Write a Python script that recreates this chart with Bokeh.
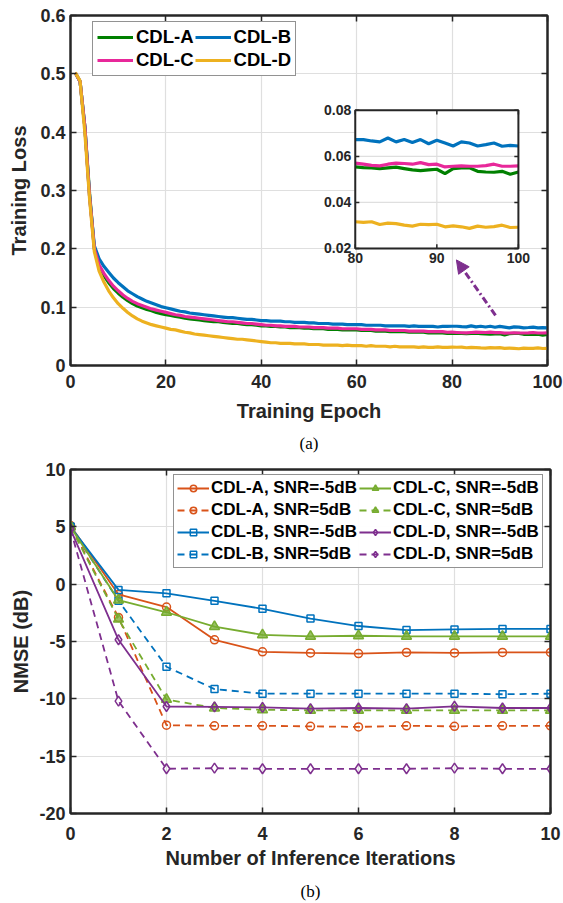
from bokeh.plotting import figure
from bokeh.models import (Legend, LegendItem, LinearAxis, Range1d, Arrow, NormalHead, Title)
from bokeh.layouts import column
from bokeh.embed import file_html
from bokeh.resources import INLINE

# ---------------- data: (a) training loss ----------------
epochs = list(range(1, 101))

loss_a = [0.502, 0.487, 0.410, 0.295, 0.200, 0.170, 0.154, 0.142, 0.132, 0.124,
          0.117, 0.111, 0.106, 0.102, 0.099, 0.096, 0.094, 0.091, 0.089, 0.087,
          0.086, 0.084, 0.083, 0.081, 0.080, 0.079, 0.078, 0.077, 0.076, 0.075,
          0.075, 0.074, 0.073, 0.072, 0.072, 0.071, 0.070, 0.070, 0.069, 0.068,
          0.068, 0.067, 0.067, 0.066, 0.066, 0.065, 0.065, 0.065, 0.064, 0.064,
          0.063, 0.063, 0.063, 0.062, 0.062, 0.062, 0.061, 0.061, 0.061, 0.061,
          0.060, 0.060, 0.060, 0.059, 0.059, 0.059, 0.058, 0.058, 0.058, 0.058,
          0.057, 0.057, 0.057, 0.057, 0.056, 0.056, 0.056, 0.056, 0.055,
          0.0554, 0.0551, 0.0550, 0.0547, 0.0550, 0.0553, 0.0547, 0.0541, 0.0538, 0.0541,
          0.0544, 0.0525, 0.0547, 0.0550, 0.0550, 0.0535, 0.0532, 0.0531, 0.0535, 0.0522,
          0.0532]

loss_b = [0.502, 0.487, 0.410, 0.290, 0.205, 0.183, 0.170, 0.160, 0.150, 0.142,
          0.135, 0.128, 0.123, 0.118, 0.114, 0.110, 0.107, 0.104, 0.101, 0.099,
          0.097, 0.095, 0.093, 0.092, 0.090, 0.089, 0.088, 0.087, 0.086, 0.085,
          0.084, 0.083, 0.082, 0.082, 0.081, 0.080, 0.079, 0.079, 0.078, 0.077,
          0.077, 0.076, 0.076, 0.076, 0.075, 0.075, 0.074, 0.074, 0.074, 0.073,
          0.073, 0.072, 0.072, 0.072, 0.071, 0.071, 0.071, 0.070, 0.070, 0.070,
          0.070, 0.069, 0.069, 0.069, 0.069, 0.068, 0.068, 0.068, 0.068, 0.068,
          0.067, 0.068, 0.067, 0.067, 0.067, 0.067, 0.066, 0.067, 0.067,
          0.0673, 0.0673, 0.0667, 0.0663, 0.0680, 0.0663, 0.0673, 0.0660, 0.0673, 0.0655,
          0.0670, 0.0658, 0.0645, 0.0663, 0.0658, 0.0645, 0.0651, 0.0658, 0.0644, 0.0648,
          0.0645]

loss_c = [0.502, 0.487, 0.410, 0.290, 0.200, 0.172, 0.158, 0.146, 0.136, 0.128,
          0.121, 0.115, 0.110, 0.106, 0.103, 0.100, 0.097, 0.095, 0.093, 0.091,
          0.089, 0.087, 0.086, 0.084, 0.083, 0.082, 0.081, 0.080, 0.079, 0.078,
          0.077, 0.076, 0.075, 0.075, 0.074, 0.073, 0.072, 0.072, 0.071, 0.070,
          0.069, 0.069, 0.068, 0.068, 0.067, 0.067, 0.067, 0.066, 0.066, 0.066,
          0.065, 0.065, 0.065, 0.064, 0.064, 0.064, 0.063, 0.063, 0.063, 0.063,
          0.062, 0.062, 0.062, 0.061, 0.061, 0.061, 0.060, 0.060, 0.060, 0.060,
          0.059, 0.059, 0.059, 0.059, 0.058, 0.058, 0.058, 0.058, 0.057,
          0.0571, 0.0566, 0.0561, 0.0559, 0.0566, 0.0571, 0.0569, 0.0566, 0.0573, 0.0564,
          0.0566, 0.0554, 0.0557, 0.0559, 0.0557, 0.0557, 0.0560, 0.0566, 0.0557, 0.0557,
          0.0559]

loss_d = [0.502, 0.488, 0.400, 0.285, 0.195, 0.162, 0.143, 0.128, 0.116, 0.106,
          0.098, 0.091, 0.085, 0.080, 0.076, 0.073, 0.070, 0.068, 0.066, 0.064,
          0.062, 0.061, 0.059, 0.057, 0.056, 0.054, 0.053, 0.052, 0.051, 0.050,
          0.049, 0.048, 0.047, 0.046, 0.045, 0.045, 0.044, 0.043, 0.042, 0.041,
          0.040, 0.039, 0.039, 0.038, 0.038, 0.038, 0.037, 0.037, 0.037, 0.036,
          0.036, 0.036, 0.035, 0.035, 0.035, 0.035, 0.034, 0.035, 0.034, 0.034,
          0.034, 0.033, 0.034, 0.033, 0.033, 0.033, 0.032, 0.033, 0.032, 0.032,
          0.032, 0.032, 0.031, 0.032, 0.031, 0.031, 0.032, 0.031, 0.031,
          0.0316, 0.0313, 0.0316, 0.0304, 0.0310, 0.0308, 0.0301, 0.0297, 0.0305, 0.0303,
          0.0305, 0.0294, 0.0298, 0.0294, 0.0287, 0.0297, 0.0292, 0.0295, 0.0301, 0.0291,
          0.0292]

loss_names = ["CDL-A", "CDL-B", "CDL-C", "CDL-D"]
top_xticks = [0, 20, 40, 60, 80, 100]
top_yticks = [0, 0.1, 0.2, 0.3, 0.4, 0.5, 0.6]
top_ylabels = ["0", "0.1", "0.2", "0.3", "0.4", "0.5", "0.6"]

inset_first_epoch = 80
inset_xticks = [80, 90, 100]
inset_xlabels = ["80", "90", "100"]
inset_yticks = [0.02, 0.04, 0.06, 0.08]
inset_ylabels = ["0.02", "0.04", "0.06", "0.08"]

# ---------------- data: (b) NMSE ----------------
iters = [0, 1, 2, 3, 4, 5, 6, 7, 8, 9, 10]
a_m5 = [5.1, -0.9, -2.0, -4.85, -5.9, -6.0, -6.05, -5.95, -6.0, -5.95, -5.95]
a_p5 = [5.1, -2.9, -12.3, -12.35, -12.35, -12.4, -12.45, -12.35, -12.4, -12.35, -12.35]
b_m5 = [5.0, -0.5, -0.8, -1.45, -2.15, -3.0, -3.65, -4.0, -3.95, -3.9, -3.9]
b_p5 = [5.0, -1.45, -7.2, -9.15, -9.55, -9.55, -9.55, -9.55, -9.55, -9.6, -9.55]
c_m5 = [5.0, -1.4, -2.45, -3.7, -4.42, -4.55, -4.5, -4.55, -4.55, -4.55, -4.55]
c_p5 = [5.0, -3.05, -10.05, -10.8, -10.96, -11.0, -11.0, -11.0, -11.0, -11.0, -11.0]
d_m5 = [4.8, -4.85, -10.67, -10.7, -10.75, -10.85, -10.8, -10.85, -10.65, -10.8, -10.8]
d_p5 = [4.8, -10.2, -16.1, -16.05, -16.1, -16.1, -16.1, -16.1, -16.05, -16.1, -16.1]

bot_xticks = [0, 2, 4, 6, 8, 10]
bot_yticks = [-20, -15, -10, -5, 0, 5, 10]
bot_ylabels = ["-20", "-15", "-10", "-5", "0", "5", "10"]

# ---------------- styles ----------------
FONT = "Liberation Sans"
INK = "#262626"
GRID = "#DFDFDF"
top_colors = ["#008000", "#0072BD", "#E8289A", "#EDB120"]
ORANGE, BLUE, GREEN, PURPLE = "#D95319", "#0072BD", "#77AC30", "#7E2F8E"


def style_axes(p, xticks, yticks, ylabels, xlab, ylab, tick_standoff_x, xlab_standoff, ylab_standoff):
    p.xaxis.ticker = xticks
    p.yaxis.ticker = yticks
    p.xgrid.ticker = xticks
    p.ygrid.ticker = yticks
    p.yaxis.major_label_overrides = {t: l for t, l in zip(yticks, ylabels)}
    p.xaxis.major_label_overrides = {t: str(t) for t in xticks}
    for ax in (p.xaxis[0], p.yaxis[0]):
        ax.major_label_text_font = FONT
        ax.major_label_text_font_style = "bold"
        ax.major_label_text_font_size = "18px"
        ax.major_label_text_color = INK
        ax.axis_label_text_font = FONT
        ax.axis_label_text_font_style = "bold"
        ax.axis_label_text_font_size = "20px"
        ax.axis_label_text_color = INK
        ax.major_tick_in = 6
        ax.major_tick_out = 0
        ax.major_tick_line_color = INK
        ax.major_tick_line_width = 1.5
        ax.minor_tick_line_color = None
        ax.axis_line_color = INK
        ax.axis_line_width = 2
    p.xaxis[0].axis_label = xlab
    p.yaxis[0].axis_label = ylab
    p.xaxis[0].major_label_standoff = tick_standoff_x
    p.xaxis[0].axis_label_standoff = xlab_standoff
    p.yaxis[0].major_label_standoff = 5
    p.yaxis[0].axis_label_standoff = ylab_standoff
    # mirrored inward ticks on the top and right edges (no labels)
    for loc, tk in (("right", yticks), ("above", xticks)):
        ax = LinearAxis(ticker=tk, major_label_text_font_size="1px", major_label_text_color=None,
                        major_label_standoff=0,
                        major_tick_in=6, major_tick_out=0, major_tick_line_color=INK,
                        major_tick_line_width=1.5, minor_tick_line_color=None,
                        axis_line_color=INK, axis_line_width=2)
        p.add_layout(ax, loc)
    p.grid.grid_line_color = GRID
    p.grid.grid_line_width = 1.2
    p.outline_line_color = INK
    p.outline_line_width = 2
    p.background_fill_color = "white"
    p.border_fill_color = "white"


# ================= (a) =================
p1 = figure(frame_width=477, frame_height=350, output_backend="svg", toolbar_location=None,
            x_range=Range1d(0, 100), y_range=Range1d(0, 0.6),
            min_border_left=68, min_border_right=18, min_border_top=15, min_border_bottom=93)
style_axes(p1, top_xticks, top_yticks, top_ylabels, "Training Epoch", "Training Loss", 9, 9, 7)

series_top = [loss_a, loss_b, loss_c, loss_d]
top_r = []
for vals, col in zip(series_top, top_colors):
    top_r.append(p1.line(epochs, vals, line_color=col, line_width=3.2))

# inset (zoom of the last epochs), drawn through a sub-coordinate mapping
k = epochs.index(inset_first_epoch)
ins = p1.subplot(x_source=Range1d(inset_xticks[0], inset_xticks[-1]),
                 y_source=Range1d(inset_yticks[0], inset_yticks[-1]),
                 x_target=Range1d(59.7, 93.9), y_target=Range1d(0.2007, 0.4374))
x0, x1 = inset_xticks[0], inset_xticks[-1]
y0, y1 = inset_yticks[0], inset_yticks[-1]
ins.quad(left=[x0], right=[x1], bottom=[y0], top=[y1], fill_color="white", line_color=None)
ins.segment(x0=inset_xticks, x1=inset_xticks, y0=[y0] * 3, y1=[y1] * 3, line_color=GRID, line_width=1.2)
ins.segment(x0=[x0] * 4, x1=[x1] * 4, y0=inset_yticks, y1=inset_yticks, line_color=GRID, line_width=1.2)
for vals, col in zip(series_top, top_colors):
    ins.line(epochs[k:], vals[k:], line_color=col, line_width=3.2)
tx = 0.0018
ty = 0.5
ins.segment(x0=inset_xticks, x1=inset_xticks, y0=[y0] * 3, y1=[y0 + tx] * 3, line_color=INK, line_width=1.5)
ins.segment(x0=inset_xticks, x1=inset_xticks, y0=[y1] * 3, y1=[y1 - tx] * 3, line_color=INK, line_width=1.5)
ins.segment(x0=[x0] * 4, x1=[x0 + ty] * 4, y0=inset_yticks, y1=inset_yticks, line_color=INK, line_width=1.5)
ins.segment(x0=[x1] * 4, x1=[x1 - ty] * 4, y0=inset_yticks, y1=inset_yticks, line_color=INK, line_width=1.5)
ins.quad(left=[x0], right=[x1], bottom=[y0], top=[y1], fill_color=None, line_color=INK, line_width=2)
ins.text(x=inset_xticks, y=[y0] * 3, text=inset_xlabels, text_align="center", text_baseline="top",
         y_offset=5, text_font={"value": FONT}, text_font_style="bold", text_font_size="14px", text_color=INK)
ins.text(x=[x0] * 4, y=inset_yticks, text=inset_ylabels, text_align="right", text_baseline="middle",
         x_offset=-4, text_font={"value": FONT}, text_font_style="bold", text_font_size="14px", text_color=INK)

p1.add_layout(Arrow(end=NormalHead(size=13, fill_color=PURPLE, line_color=PURPLE),
                    x_start=89.1, y_start=0.086, x_end=80.9, y_end=0.181,
                    line_color=PURPLE, line_width=3, line_dash="7 3 2 3"))

leg1 = Legend(items=[LegendItem(label=n, renderers=[r]) for n, r in
                     zip([loss_names[0], loss_names[2], loss_names[1], loss_names[3]],
                         [top_r[0], top_r[2], top_r[1], top_r[3]])],
              ncols=2, location=(22, 289))
leg1.label_text_font = FONT
leg1.label_text_font_style = "bold"
leg1.label_text_font_size = "18.5px"
leg1.label_text_color = "black"
leg1.glyph_width = 36
leg1.glyph_height = 18
leg1.label_standoff = 3
leg1.spacing = 1
leg1.padding = 4
leg1.margin = 0
leg1.border_line_color = INK
leg1.border_line_width = 1.5
leg1.background_fill_alpha = 1
p1.add_layout(leg1, "center")

p1.add_layout(Title(text="(a)", align="center", offset=-21, standoff=14, text_font="Liberation Serif",
                    text_font_style="normal", text_font_size="17px", text_color="black"), "below")

# ================= (b) =================
p2 = figure(frame_width=480, frame_height=344, output_backend="svg", toolbar_location=None,
            x_range=Range1d(0, 10), y_range=Range1d(-20, 10),
            min_border_left=70, min_border_right=13, min_border_top=10, min_border_bottom=80)
style_axes(p2, bot_xticks, bot_yticks, bot_ylabels, "Number of Inference Iterations", "NMSE (dB)", 13, 4, 4)

specs = [
    ("CDL-A, SNR=-5dB", a_m5, ORANGE, "solid", "circle", None, 8),
    ("CDL-A, SNR=5dB", a_p5, ORANGE, "7 5", "circle", None, 8),
    ("CDL-B, SNR=-5dB", b_m5, BLUE, "solid", "square", None, 7),
    ("CDL-B, SNR=5dB", b_p5, BLUE, "7 5", "square", None, 7),
    ("CDL-C, SNR=-5dB", c_m5, GREEN, "solid", "triangle", GREEN, 10),
    ("CDL-C, SNR=5dB", c_p5, GREEN, "7 5", "triangle", GREEN, 10),
    ("CDL-D, SNR=-5dB", d_m5, PURPLE, "solid", "diamond", None, 10),
    ("CDL-D, SNR=5dB", d_p5, PURPLE, "7 5", "diamond", None, 10),
]
items2 = []
for label, vals, col, dash, marker, fill, size in specs:
    lr = p2.line(iters, vals, line_color=col, line_width=1.8, line_dash=dash)
    sr = p2.scatter(iters, vals, marker=marker, size=size, line_color=col, line_width=1.5,
                    fill_color=fill, fill_alpha=0.75)
    items2.append(LegendItem(label=label, renderers=[lr, sr]))

leg2 = Legend(items=items2, ncols=2, location=(103, 245))
leg2.label_text_font = FONT
leg2.label_text_font_style = "bold"
leg2.label_text_font_size = "17px"
leg2.label_text_color = "black"
leg2.glyph_width = 32
leg2.glyph_height = 16
leg2.label_standoff = 2
leg2.spacing = 2
leg2.padding = 3
leg2.margin = 0
leg2.border_line_color = INK
leg2.border_line_width = 1.5
p2.add_layout(leg2, "center")

p2.add_layout(Title(text="(b)", align="center", offset=-22, standoff=16, text_font="Liberation Serif",
                    text_font_style="normal", text_font_size="17px", text_color="black"), "below")

page = column(p1, p2, spacing=0)
open("out.html", "w").write(file_html(page, INLINE))
